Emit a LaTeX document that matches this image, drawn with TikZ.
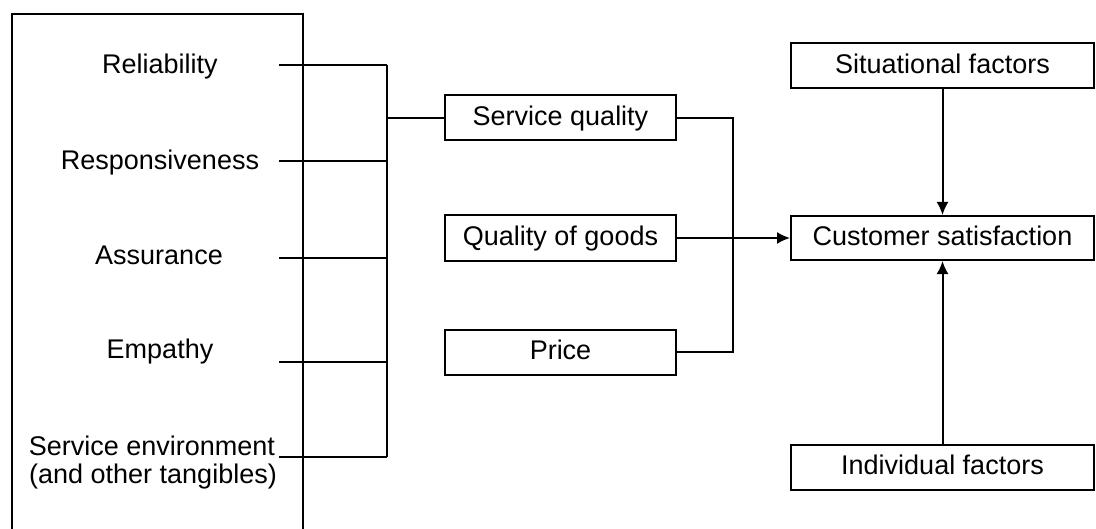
\documentclass[tikz,border=0pt]{standalone}
\usepackage{fontspec}
\setmainfont{Liberation Sans}
\usetikzlibrary{arrows.meta}
\begin{document}
\begin{tikzpicture}[x=0.5pt,y=-0.5pt,
  every node/.style={font=\fontsize{13.5}{15}\selectfont, text height=0.716em, text depth=0pt},
  line/.style={line width=1pt},
  box/.style={draw, line width=1pt, inner sep=0pt, minimum width=#1, minimum height=22.5pt},
  box/.default=115.5pt,
  tip/.style={line width=1pt, -{Latex[length=6.5pt,width=6pt]}}]
\useasboundingbox (0,0) rectangle (1096,529);

% frame around the service dimensions (open at the bottom)
\draw[line] (12,535) -- (12,14) -- (303,14) -- (303,535);

% service dimensions
\node (rel) at (160,66) {Reliability};
\node (res) at (160,162) {Responsiveness};
\node (asu) at (159,257) {Assurance};
\node (emp) at (160,351) {Empathy};
\node (env) at (152,448) {Service environment};
\node (env2) at (153,476) {(and other tangibles)};

% left ends of the dimension lines and their junctions on the bar
\coordinate (relL) at (279,65);  \coordinate (relJ) at (387,65);
\coordinate (resL) at (279,161); \coordinate (resJ) at (387,161);
\coordinate (asuL) at (279,258); \coordinate (asuJ) at (387,258);
\coordinate (empL) at (279,362); \coordinate (empJ) at (387,362);
\coordinate (envL) at (279,457); \coordinate (envJ) at (387,457);
\coordinate (sqJ) at (387,118);

% middle column
\node[box] (sq) at (560.5,118) {Service quality};
\node[box] (qg) at (560.5,238) {Quality of goods};
\node[box] (pr) at (560.5,352) {Price};

% right column
\node[box=151.5pt] (sit) at (942.5,66) {Situational factors};
\node[box=151.5pt, minimum height=22pt] (cs) at (942.5,238) {Customer satisfaction};
\node[box=151.5pt] (ind) at (942.5,467.5) {Individual factors};

% dimension lines into the bar
\draw[line] (relL) -- (relJ);
\draw[line] (resL) -- (resJ);
\draw[line] (asuL) -- (asuJ);
\draw[line] (empL) -- (empJ);
\draw[line] (envL) -- (envJ);
\draw[line] (relJ) -- (envJ);
\draw[line] (sqJ) -- (sq.west);

% service quality and price merge
\coordinate (mx) at (733,0);
\draw[line] (sq.east) -- (sq.east -| mx) -- (pr.east -| mx) -- (pr.east);

% arrows into customer satisfaction
\draw[tip] (qg.east) -- (cs.west);
\draw[tip] (sit.south) -- (cs.north);
\draw[tip] (ind.north) -- (cs.south);
\end{tikzpicture}
\end{document}
